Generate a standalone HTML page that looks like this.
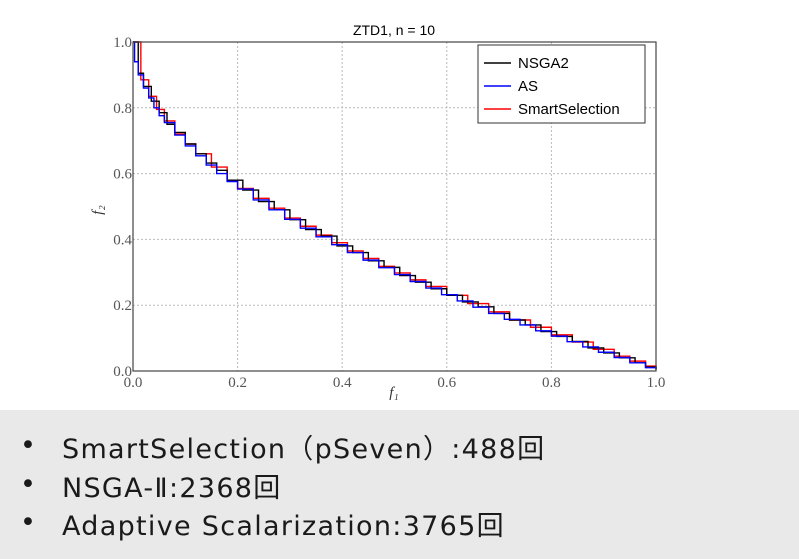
<!DOCTYPE html>
<html><head><meta charset="utf-8"><style>
body{margin:0;width:799px;height:559px;background:#fff;overflow:hidden;font-family:"Liberation Sans",sans-serif}
#box{position:absolute;left:0;top:410px;width:799px;height:149px;background:#e9e9e9}
.li{position:absolute;left:20px;font-size:27px;color:#1a1a1a;font-family:"DejaVu Sans","Noto Sans CJK JP",sans-serif;letter-spacing:1.3px}
.li span{position:absolute;left:0;top:3px}
.li b{font-weight:normal;position:absolute;left:42px;white-space:nowrap}
</style></head><body>
<svg id="chart" width="799" height="410" style="position:absolute;left:0;top:0"></svg>
<div id="box">
<div class="li" style="top:17px"><span>•</span><b>SmartSelection（pSeven）:488回</b></div>
<div class="li" style="top:56px"><span>•</span><b>NSGA-Ⅱ:2368回</b></div>
<div class="li" style="top:94px"><span>•</span><b>Adaptive Scalarization:3765回</b></div>
</div>
<script>
const ticks=[0,0.2,0.4,0.6,0.8,1.0];
const tickLabels=["0.0","0.2","0.4","0.6","0.8","1.0"];
const asX=[0,.003,.01,.02,.03,.04,.05,.06,.08,.1,.12,.14,.16,.18,.2,.23,.26,.29,.32,.35,.38,.41,.44,.47,.5,.53,.56,.59,.62,.65,.68,.71,.74,.77,.8,.83,.86,.89,.92,.95,.98,1];
const asY=[1,.94,.9,.86,.83,.8,.776,.755,.717,.684,.654,.626,.6,.576,.553,.52,.49,.461,.434,.408,.384,.36,.337,.314,.293,.272,.252,.232,.213,.194,.175,.157,.14,.122,.106,.089,.073,.057,.041,.025,.01,.005];
const nsX=[0,.01,.02,.035,.05,.065,.08,.1,.12,.14,.16,.18,.21,.24,.27,.3,.33,.36,.39,.42,.45,.48,.51,.54,.57,.6,.63,.66,.69,.72,.75,.78,.81,.84,.87,.9,.93,.96,.98,1];
const nsY=[1,.905,.865,.82,.785,.75,.725,.69,.66,.632,.61,.58,.55,.515,.49,.46,.43,.41,.38,.36,.335,.315,.29,.27,.25,.23,.21,.195,.175,.155,.14,.12,.105,.09,.07,.055,.04,.025,.012,.005];
const ssX=[0,.015,.03,.045,.06,.08,.1,.12,.15,.18,.2,.23,.26,.29,.32,.35,.38,.41,.44,.47,.5,.53,.56,.6,.64,.68,.72,.76,.8,.84,.88,.92,.95,.98,1];
const ssY=[1,.885,.835,.795,.76,.72,.69,.66,.62,.58,.555,.525,.495,.465,.44,.413,.39,.365,.342,.318,.298,.277,.257,.23,.205,.18,.155,.133,.11,.088,.066,.045,.03,.015,.005];
const X0=133,X1=656,Y0=371,Y1=42;
const sx=v=>X0+v*(X1-X0), sy=v=>Y0-v*(Y0-Y1);
const svg=document.getElementById('chart');const NS='http://www.w3.org/2000/svg';
function mk(t,a,txt){const e=document.createElementNS(NS,t);for(const k in a)e.setAttribute(k,a[k]);if(txt!==undefined)e.textContent=txt;svg.appendChild(e);return e;}
ticks.forEach((t,i)=>{
 if(i>0&&i<5){let g=mk('line',{x1:sx(t),x2:sx(t),y1:Y1,y2:Y0,stroke:'#bbb','stroke-dasharray':'2,2'});
 
 let h=mk('line',{x1:X0,x2:X1,y1:sy(t),y2:sy(t),stroke:'#bbb','stroke-dasharray':'2,2'});
 }
 let xl=mk('text',{x:sx(t),y:Y0+16,'text-anchor':'middle','font-family':'Liberation Serif,serif','font-size':15,fill:'#555'},tickLabels[i]);
 
 let yl=mk('text',{x:X0-1,y:sy(t)+5,'text-anchor':'end','font-family':'Liberation Serif,serif','font-size':15,fill:'#555'},tickLabels[i]);
 
});
function step(xs,ys,c,name){let d='M'+sx(xs[0])+','+sy(ys[0]);
 for(let i=1;i<xs.length;i++){d+=' L'+sx(xs[i])+','+sy(ys[i-1])+' L'+sx(xs[i])+','+sy(ys[i]);}
 const p=mk('path',{d:d,fill:'none',stroke:c,'stroke-width':1.4});
 }
step(ssX,ssY,'#f00','series-smartselection');
step(nsX,nsY,'#000','series-nsga2');
step(asX,asY,'#00f','series-as');
const fr=mk('rect',{x:X0,y:Y1,width:X1-X0,height:Y0-Y1,fill:'none',stroke:'#444','stroke-width':1.2});

const ti=mk('text',{x:394,y:35,'text-anchor':'middle','font-size':14,fill:'#000'},'ZTD1, n = 10');

const xt=mk('text',{x:394,y:397,'text-anchor':'middle','font-family':'Liberation Serif,serif','font-style':'italic','font-size':15,fill:'#333'},'f₁');

const yt=mk('text',{x:102,y:210,'text-anchor':'middle','font-family':'Liberation Serif,serif','font-style':'italic','font-size':15,fill:'#333',transform:'rotate(-90 102 210)'},'f₂');

const lg=mk('rect',{x:478,y:45,width:167,height:78,fill:'#fff',stroke:'#333'});

const legNames=['NSGA2','AS','SmartSelection'];const legCols=['#000','#00f','#f00'];
legNames.forEach((n,i)=>{const y=63+i*23;
 const l=mk('line',{x1:484,x2:511,y1:y,y2:y,stroke:legCols[i],'stroke-width':1.5});
 
 const t=mk('text',{x:518,y:y+5,'font-size':15,fill:'#000'},n);
 });
</script>
</body></html>
